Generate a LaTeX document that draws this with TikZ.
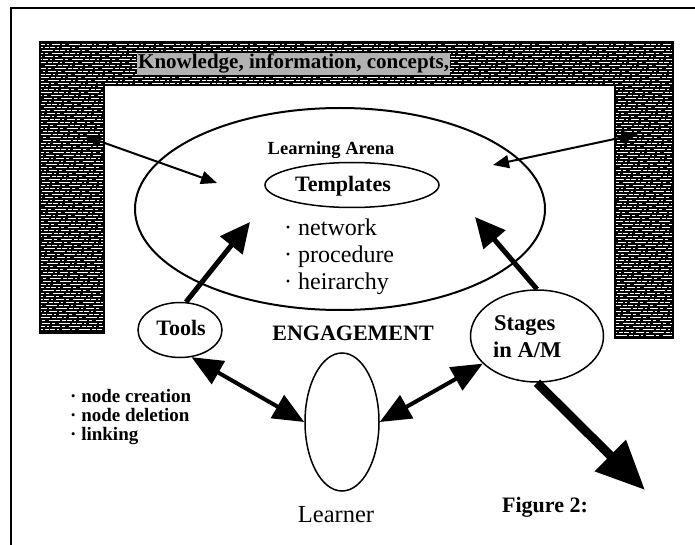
\documentclass[tikz,border=0pt]{standalone}
\usepackage{fontspec}
\setmainfont{Liberation Serif}
\usetikzlibrary{shapes.geometric,arrows.meta}
\tikzset{
  oval/.style={ellipse, draw=black, line width=1.5pt, inner sep=0pt},
  lbl/.style={inner sep=0pt, anchor=base, text=black},
  boldlbl/.style={lbl, font=\bfseries\fontsize{22}{26}\selectfont},
  bulletlbl/.style={inner sep=0pt, anchor=base west, font=\fontsize{24}{27}\selectfont},
  smallbullet/.style={inner sep=0pt, anchor=base west, font=\bfseries\fontsize{19}{20}\selectfont},
  thinarr/.style={line width=2pt, {Triangle[length=16pt,width=13pt]}-{Triangle[length=16pt,width=13pt]}},
  medarr/.style={line width=5pt, -{Triangle[length=30pt,width=28pt]}},
  duoarr/.style={line width=4pt, {Triangle[length=31pt,width=26pt]}-{Triangle[length=31pt,width=26pt]}},
  bigarr/.style={line width=9pt, -{Triangle[length=49pt,width=42pt]}}
}
\begin{document}
\begin{tikzpicture}[x=1pt,y=-1pt]
\useasboundingbox (0,0) rectangle (695,545);
\fill[white] (0,0) rectangle (695,545);
% frame
\draw[line width=1.5pt] (11,545) -- (11,8) -- (695,8);
% textured band
\begin{scope}
\clip (40,42) -- (673,42) -- (673,338) -- (615,338) -- (615,85) -- (104,85) -- (104,333) -- (40,333) -- cycle;
\fill[black] (40,42) rectangle (673,338);
\foreach \k in {0,...,98} {
  \pgfmathtruncatemacro\ph{mod(\k*37,47)}
  \draw[white, line width=1.1pt, dash pattern=on 5pt off 2pt on 2pt off 3pt on 8pt off 2pt on 3pt off 4pt on 11pt off 2pt on 4pt off 1pt, dash phase=\ph pt] (40,{44.5+3*\k}) -- (673,{44.5+3*\k});
}
\end{scope}
\draw[line width=1.5pt] (40,42) -- (673,42) -- (673,338) -- (615,338) -- (615,85) -- (104,85) -- (104,333) -- (40,333) -- cycle;
\node[inner sep=1pt, anchor=base west, fill=black!30, font=\bfseries\fontsize{21}{24}\selectfont] (know) at (137,69) {Knowledge, information, concepts,};

% ellipses
\node[oval, line width=2pt, minimum width=410pt, minimum height=202pt] (arena) at (340,209) {};
\node[oval, minimum width=174pt, minimum height=45pt] (tmpl) at (352,185) {};
\node[oval, minimum width=84pt, minimum height=55pt] (tools) at (180,330) {};
\node[oval, minimum width=74pt, minimum height=138pt] (learner) at (342,422) {};
\node[oval, minimum width=133pt, minimum height=92pt] (stages) at (537,336) {};

% labels
\node[lbl, font=\bfseries\fontsize{18.5}{22}\selectfont] (arenatxt) at (331,155) {Learning Arena};
\node[boldlbl] (tmpltxt) at (343,192) {Templates};
\node[bulletlbl] (b1) at (284,235) {· network};
\node[bulletlbl] (b2) at (284,262) {· procedure};
\node[bulletlbl] (b3) at (284,289) {· heirarchy};
\node[boldlbl] (toolstxt) at (181,335) {Tools};
\node[boldlbl] (engage) at (353,340) {ENGAGEMENT};
\node[inner sep=0pt, anchor=base west, font=\bfseries\fontsize{22.5}{27}\selectfont] (st1) at (494,330) {Stages};
\node[inner sep=0pt, anchor=base west, font=\bfseries\fontsize{22.5}{27}\selectfont] (st2) at (493,357) {in A/M};
\node[smallbullet] (s1) at (70,402) {· node creation};
\node[smallbullet] (s2) at (70,421) {· node deletion};
\node[smallbullet] (s3) at (70,440) {· linking};
\node[lbl, font=\fontsize{24.5}{28}\selectfont] (learnertxt) at (336,522) {Learner};
\node[boldlbl] (fig) at (545,512) {Figure 2:};

% connector end points
\coordinate (lband) at (85,136);
\coordinate (ltip) at (217,183);
\coordinate (rband) at (638,134);
\coordinate (rtip) at (493,165);
\coordinate (ttip) at (250,222);
\coordinate (stip) at (475,217);
\coordinate (bigtip) at (645,490);

% connectors
\draw[thinarr] (lband) -- (ltip);
\draw[thinarr] (rband) -- (rtip);
\draw[medarr] (tools.78) -- (ttip);
\draw[medarr] (stages.north) -- (stip);
\draw[duoarr] (tools.-67) -- (learner.west);
\draw[duoarr] (learner.east) -- (stages.207);
\draw[bigarr] (stages.south) -- (bigtip);
\end{tikzpicture}
\end{document}
